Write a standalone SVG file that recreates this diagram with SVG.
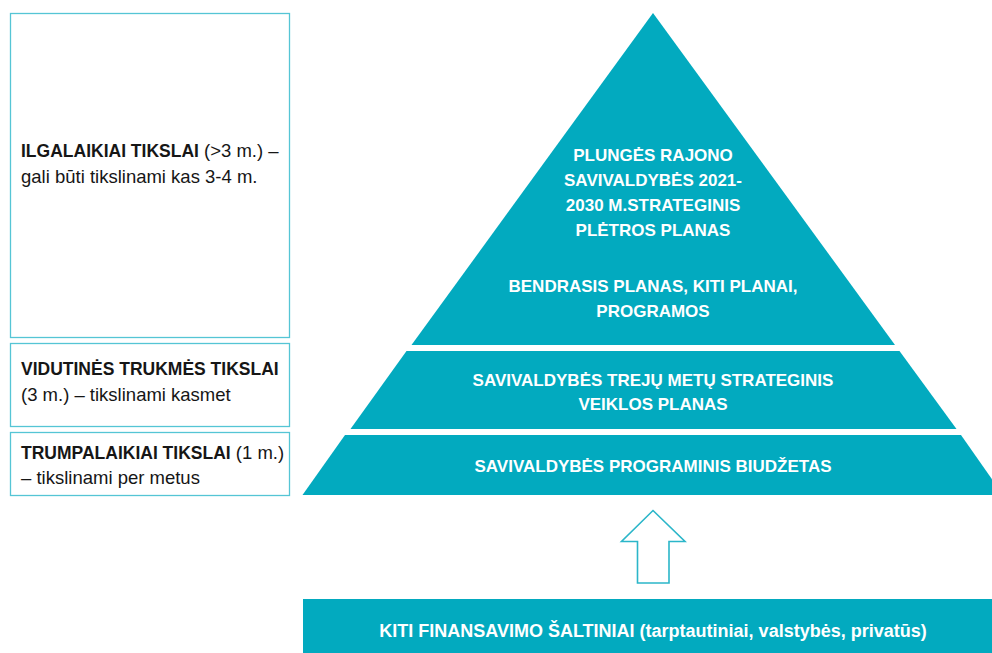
<svg xmlns="http://www.w3.org/2000/svg" width="992" height="653" viewBox="0 0 992 653">
<style>
.box{fill:#ffffff;stroke:#55C5D5;stroke-width:1.3}
.lt{font-family:"Liberation Sans",Arial,sans-serif;font-size:18.5px;fill:#161616}
.b{font-weight:bold;font-size:17.5px}
.tier{fill:#02AABF}
.wt{font-family:"Liberation Sans",Arial,sans-serif;font-size:17px;font-weight:bold;fill:#ffffff;text-anchor:middle}
.arrow{fill:#ffffff;stroke:#2BB6C9;stroke-width:1.6}
</style>
<rect width="992" height="653" fill="#ffffff"/>

<g id="box-long">
<rect class="box" x="10.5" y="13.5" width="279" height="324"/>
<text class="lt" x="21" y="157"><tspan class="b">ILGALAIKIAI TIKSLAI</tspan> (&gt;3 m.) –</text>
<text class="lt" x="21" y="183">gali būti tikslinami kas 3-4 m.</text>
</g>

<g id="box-mid">
<rect class="box" x="10.5" y="343.5" width="279" height="83"/>
<text class="lt" x="21" y="375"><tspan class="b">VIDUTINĖS TRUKMĖS TIKSLAI</tspan></text>
<text class="lt" x="21" y="401">(3 m.) – tikslinami kasmet</text>
</g>

<g id="box-short">
<rect class="box" x="10.5" y="432.5" width="279" height="63"/>
<text class="lt" x="21" y="459"><tspan class="b">TRUMPALAIKIAI TIKSLAI</tspan> (1 m.)</text>
<text class="lt" x="21" y="484">– tikslinami per metus</text>
</g>

<g id="tier-top">
<polygon class="tier" points="653,13 895,345 411.5,345"/>
<text class="wt" x="653" y="161">PLUNGĖS RAJONO</text>
<text class="wt" x="653" y="186">SAVIVALDYBĖS 2021-</text>
<text class="wt" x="653" y="211">2030 M.STRATEGINIS</text>
<text class="wt" x="653" y="236">PLĖTROS PLANAS</text>
<text class="wt" x="653" y="292">BENDRASIS PLANAS, KITI PLANAI,</text>
<text class="wt" x="653" y="317">PROGRAMOS</text>
</g>

<g id="tier-mid">
<polygon class="tier" points="406.5,351 899.5,351 956.5,429 350.5,429"/>
<text class="wt" x="653" y="386">SAVIVALDYBĖS TREJŲ METŲ STRATEGINIS</text>
<text class="wt" x="653" y="410">VEIKLOS PLANAS</text>
</g>

<g id="tier-base">
<polygon class="tier" points="345,435 961,435 1003,495 302.5,495"/>
<text class="wt" x="653" y="472">SAVIVALDYBĖS PROGRAMINIS BIUDŽETAS</text>
</g>

<g id="connectors">
<polygon class="arrow" points="653,510.5 685,541.5 669,541.5 669,583 637.5,583 637.5,541.5 621.5,541.5"/>
</g>

<g id="funding">
<rect class="tier" x="303" y="599" width="689" height="54"/>
<text class="wt" x="653" y="637" style="font-size:18px">KITI FINANSAVIMO ŠALTINIAI (tarptautiniai, valstybės, privatūs)</text>
</g>
</svg>
